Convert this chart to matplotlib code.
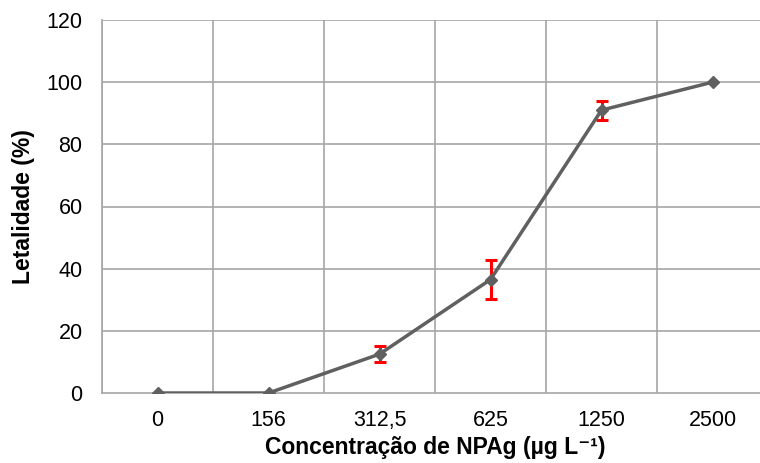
import matplotlib
matplotlib.use("Agg")
import matplotlib.pyplot as plt
import numpy as np

# data
categories = ["0", "156", "312,5", "625", "1250", "2500"]
letalidade = [0, 0, 12.5, 36.5, 91, 100]
erro = [0, 0, 2.6, 6.3, 3.1, 0]

plt.rcParams["font.family"] = ["Liberation Sans", "DejaVu Sans"]

fig = plt.figure(figsize=(7.6, 4.63), dpi=100)
ax = fig.add_axes([102 / 760, 1 - 393 / 463, 666 / 760, 373 / 463])

x = np.arange(len(categories))
y = np.array(letalidade, dtype=float)
e = np.array(erro, dtype=float)
has_err = e > 0

ax.errorbar(x[has_err], y[has_err], yerr=e[has_err], fmt="none", ecolor="#ff0000",
            elinewidth=2.2, capsize=4.5, capthick=2.2, zorder=3)
ax.plot(x, y, color="#606060", lw=2.5, marker="D", ms=6.5, zorder=4)

ax.set_xlim(-0.5, len(categories) - 0.5)
ax.set_ylim(0, 120)
ax.set_yticks(range(0, 121, 20))
ax.set_xticks(x)
ax.set_xticklabels(categories)

# category boundary grid like Excel
for b in range(len(categories) + 1):
    ax.axvline(b - 0.5, color="#a6a6a6", lw=1.2, zorder=1)
for yy in range(20, 121, 20):
    ax.axhline(yy, color="#a6a6a6", lw=1.2, zorder=1)

for s in ["top", "right"]:
    ax.spines[s].set_visible(False)
for s in ["left", "bottom"]:
    ax.spines[s].set_color("#a6a6a6")
    ax.spines[s].set_linewidth(1.2)

ax.tick_params(axis="y", length=0, pad=14, labelsize=15.5)
ax.tick_params(axis="x", length=0, pad=12, labelsize=15.5)

ax.set_ylabel("Letalidade (%)", fontsize=16.5, fontweight="bold", labelpad=8)
ax.set_xlabel("Concentração de NPAg (µg L⁻¹)", fontsize=16.5,
              fontweight="bold", labelpad=4)

fig.savefig("out.png", dpi=100)
